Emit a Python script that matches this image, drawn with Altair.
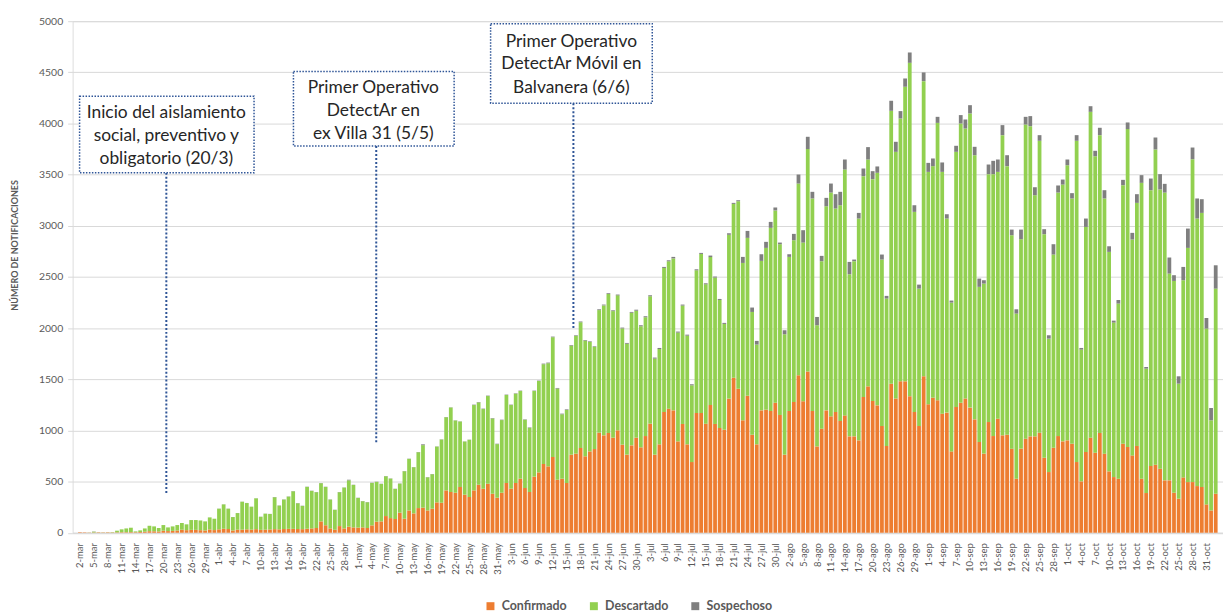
import altair as alt
import pandas as pd

# ---------------- data ----------------
meses = {3: "mar", 4: "abr", 5: "may", 6: "jun", 7: "jul", 8: "ago", 9: "sep", 10: "oct", 11: "nov"}
dias = pd.date_range("2020-03-02", periods=246, freq="D")
fechas = [f"{d.day}-{meses[d.month]}" for d in dias]

confirmado = [
    5, 4, 2, 3, 4, 3, 4, 3, 4, 5, 5, 6, 5, 7, 10, 15, 14, 12, 20, 16, 18, 22, 30, 25, 28, 28, 25, 22, 32, 26,
    33, 39, 36, 22, 30, 30, 33, 30, 35, 28, 30, 32,
    35, 33, 36, 38, 38, 36, 35, 39, 42, 46, 111, 72, 42, 29, 65, 42, 59, 52, 50, 52,
    46, 72, 108, 111, 163, 143, 134, 196, 137, 218, 189, 241, 245, 218, 235, 297, 293, 414, 398, 391,
    447, 372, 349,
    414, 469, 430, 479, 381, 342, 391, 486, 430, 486, 528, 437, 398, 548, 590, 672, 649, 740, 518, 528,
    486, 763, 773, 828, 747, 795, 818, 978, 952, 975, 929, 1001, 861, 763, 854, 929, 835, 945,
    1066, 763, 864, 1180, 1213, 1196, 893, 1063, 864, 691, 1170, 1170, 1066, 1249, 1063, 1024, 1007, 1311, 1516, 1408,
    1099, 1340, 958, 864, 1196, 1203, 1190, 1271, 1151, 763, 1190, 1278, 1539, 1284, 1575, 1190, 844, 1017, 1196, 1138,
    1180, 1092, 1147, 942, 942, 903, 1327, 1431, 1288, 1245, 1043, 848, 1457, 1311, 1480, 1480, 1333, 1180, 1043, 1529,
    1255, 1320, 1294, 1164, 1174, 795, 1229, 1271, 1311, 1223, 1108, 887, 773, 1082, 945, 1115, 952, 958, 822, 528,
    822, 919, 942, 942, 978, 733, 593, 831, 945, 893, 903, 870, 691, 502, 789, 929, 782, 975, 773, 600,
    544, 528, 870, 838, 756, 848, 528, 388, 652, 665, 626, 512, 512, 391, 333, 541, 495, 495, 456, 447,
    277, 218, 381,
]

descartado = [
    0, 0, 1, 7, 1, 1, 1, 3, 16, 28, 37, 43, 8, 16, 32, 53, 48, 34, 55, 36, 44, 53, 65, 57, 96, 96, 95, 89, 118, 111,
    202, 238, 199, 131, 162, 273, 257, 224, 301, 128, 156, 151,
    312, 232, 288, 315, 367, 252, 227, 409, 367, 350, 373, 376, 282, 194, 331, 399, 453, 415, 290, 256,
    252, 415, 389, 366, 389, 386, 294, 284, 464, 504, 451, 546, 611, 324, 337, 545, 618, 715, 826, 706,
    640, 519, 559,
    834, 805, 779, 857, 736, 524, 710, 860, 818, 873, 857, 667, 628, 837, 893, 975, 1008, 1171, 891, 630,
    714, 1066, 1151, 1230, 1131, 1070, 998, 1198, 1270, 1358, 1237, 1319, 1136, 1084, 1296, 1241, 1183, 1161,
    1245, 939, 932, 1408, 1440, 1485, 1063, 1157, 1062, 750, 1395, 1555, 1362, 1445, 1431, 1251, 1034, 1601, 1698, 1832,
    1538, 1542, 1200, 975, 1461, 1581, 1790, 1879, 1669, 1177, 1506, 1581, 1874, 1552, 2175, 2077, 1184, 1637, 1995, 2187,
    1989, 2109, 2403, 1585, 1712, 2168, 2158, 2217, 2168, 2273, 1627, 1441, 2667, 2412, 2569, 2879, 3260, 1956, 1343, 2885,
    2272, 2263, 2712, 2363, 1897, 1454, 2494, 2729, 2640, 2875, 2582, 1516, 1662, 2423, 2560, 2412, 2934, 2625, 2086, 1614,
    2047, 3071, 3032, 2357, 2853, 2185, 1304, 1888, 2380, 2510, 2689, 2397, 3140, 1288, 2200, 3185, 2898, 2911, 2494, 2145,
    1510, 1712, 2527, 3107, 2110, 2376, 2892, 1216, 2696, 3081, 2729, 2813, 2021, 2070, 1124, 1927, 2289, 3156, 2615, 2679,
    1718, 881, 2005,
]

sospechoso = [
    0, 0, 0, 2, 0, 0, 0, 0, 0, 0, 0, 0, 0, 0, 0, 0, 0, 0, 0, 0, 0, 0, 0, 0, 0, 0, 0, 0, 0, 0,
    1, 1, 1, 1, 1, 1, 1, 1, 1, 1, 1, 1,
    2, 2, 2, 2, 2, 2, 2, 2, 2, 2, 2, 2, 2, 2, 2, 2, 6, 2, 2, 2,
    2, 2, 2, 2, 2, 2, 2, 2, 2, 2, 2, 2, 8, 2, 2, 2, 2, 2, 2, 2,
    2, 2, 2,
    4, 4, 4, 4, 4, 4, 4, 4, 4, 4, 4, 4, 4, 4, 4, 6, 6, 6, 6, 6,
    6, 6, 6, 6, 6, 6, 6, 8, 8, 8, 8, 8, 8, 8, 8, 10, 10, 10,
    10, 10, 10, 10, 10, 15, 10, 10, 10, 10, 10, 10, 10, 15, 10, 10, 10, 15, 10, 10,
    59, 68, 43, 36, 65, 59, 58, 29, 16, 39, 26, 62, 88, 121, 120, 65, 81, 52, 82, 88,
    140, 131, 98, 120, 16, 55, 75, 121, 78, 62, 49, 26, 98, 98, 72, 81, 101, 65, 39, 85,
    88, 75, 59, 92, 42, 20, 59, 82, 88, 81, 82, 81, 33, 94, 130, 121, 98, 107, 55, 42,
    94, 75, 98, 78, 55, 49, 33, 101, 69, 49, 56, 52, 55, 16, 82, 55, 53, 72, 81, 55,
    19, 35, 52, 65, 65, 85, 75, 16, 114, 117, 150, 85, 157, 56, 72, 130, 189, 114, 196, 134,
    104, 120, 228,
]

tipos = ["Confirmado", "Descartado", "Sospechoso"]
colores = ["#ED7D31", "#92D050", "#7F7F7F"]
y_ticks = list(range(0, 5001, 500))

# annotation texts
notas = [
    ["Inicio del aislamiento", "social, preventivo y", "obligatorio (20/3)"],
    ["Primer Operativo", "DetectAr en", "ex Villa 31 (5/5)"],
    ["Primer Operativo", "DetectAr Móvil en", "Balvanera (6/6)"],
]

# ---------------- tables ----------------
series = {"Confirmado": confirmado, "Descartado": descartado, "Sospechoso": sospechoso}
rows = []
for k, tipo in enumerate(tipos):
    for i, (f, v) in enumerate(zip(fechas, series[tipo])):
        rows.append({"dia": i + 0.5, "fecha": f, "tipo": tipo, "valor": v, "orden": k})
df = pd.DataFrame(rows)

# annotation geometry (day-index units on x, value units on y)
cajas = pd.DataFrame({
    "x0": [0.43, 46.56, 89.09], "x1": [38.06, 81.22, 123.96],
    "y0": [3518, 3780, 4198], "y1": [4266, 4509, 4976],
})
lineas = pd.DataFrame({
    "u": [19.14, 64.42, 106.95], "ya": [3518, 3780, 4198], "yb": [379, 865, 1982],
})
text_rows = []
centros = [19.14, 63.79, 106.52]
ys = [[4101, 3877, 3654], [4344, 4120, 3897], [4801, 4577, 4344]]
for c, lines, yy in zip(centros, notas, ys):
    for t, yv in zip(lines, yy):
        text_rows.append({"u": c, "y": yv, "t": t})
textos = pd.DataFrame(text_rows)

FONT = "Lato"
GREY = "#595959"
BLUE = "#2F5597"

tick_vals = [i + 0.5 for i in range(0, len(fechas), 3)]
js_labels = "[" + ",".join("'" + f + "'" for f in fechas[::3]) + "]"
label_expr = js_labels + "[round((datum.value - 0.5) / 3)]"

xscale = alt.Scale(domain=[0, len(fechas)], nice=False, zero=False)
yscale = alt.Scale(domain=[0, 5000], nice=False)

x_axis = alt.Axis(
    values=tick_vals, labelExpr=label_expr, labelAngle=270, title=None, ticks=False,
    labelPadding=10, labelFontSize=9.5, labelColor=GREY, labelFont=FONT,
    domain=True, domainColor="#d9d9d9", grid=False, labelOverlap=False,
    labelAlign="right", labelBaseline="middle", labelFlush=False, labelBound=False,
)
y_axis = alt.Axis(
    values=y_ticks, format="d", title="NÚMERO DE NOTIFICACIONES", titleFont=FONT,
    titleFontSize=9, titleFontWeight="bold", titleColor=GREY,
    titleX=-58, titleY=225, titleBaseline="middle", titleAngle=270,
    labelFontSize=10.5, labelColor=GREY, labelFont=FONT, labelPadding=5,
    tickSize=5, tickColor="#d9d9d9", domain=False, labelOverlap=False,
    grid=True, gridColor="#d9d9d9",
)

bars = alt.Chart(df).mark_bar(size=3.8).encode(
    x=alt.X("dia:Q", scale=xscale, axis=x_axis),
    y=alt.Y("valor:Q", stack="zero", scale=yscale, axis=y_axis),
    color=alt.Color(
        "tipo:N", scale=alt.Scale(domain=tipos, range=colores),
        legend=alt.Legend(
            title=None, orient="none", legendX=414, legendY=582, direction="horizontal",
            symbolType="square", symbolSize=64, symbolStrokeWidth=0,
            labelFontSize=12.5, labelFontWeight="bold", labelColor=GREY, labelFont=FONT,
            columnPadding=20, labelOffset=5,
        ),
    ),
    order=alt.Order("orden:Q"),
)

rects = alt.Chart(cajas).mark_rect(
    fill="white", stroke=BLUE, strokeDash=[1.5, 1.5], strokeWidth=1.5
).encode(
    x=alt.X("x0:Q", scale=xscale, axis=x_axis), x2="x1:Q",
    y=alt.Y("y0:Q", scale=yscale, axis=y_axis), y2="y1:Q",
)

rules = alt.Chart(lineas).mark_rule(
    color=BLUE, strokeDash=[2, 2], strokeWidth=2
).encode(
    x=alt.X("u:Q", scale=xscale, axis=x_axis),
    y=alt.Y("ya:Q", scale=yscale, axis=y_axis), y2="yb:Q",
)

texts = alt.Chart(textos).mark_text(
    font=FONT, fontSize=17.5, color="#262626", baseline="middle", align="center"
).encode(
    x=alt.X("u:Q", scale=xscale, axis=x_axis),
    y=alt.Y("y:Q", scale=yscale, axis=y_axis),
    text="t:N",
)

chart = alt.layer(bars, rules, rects, texts).properties(
    width=1157, height=514.5,
    padding={"left": 65, "top": 11.5, "right": 0, "bottom": 82},
    autosize="none",
).configure_view(stroke=None).configure(font=FONT).configure_axisX(labelOverlap=False)

chart.save("out.html", embed_options={"renderer": "svg", "actions": False})
